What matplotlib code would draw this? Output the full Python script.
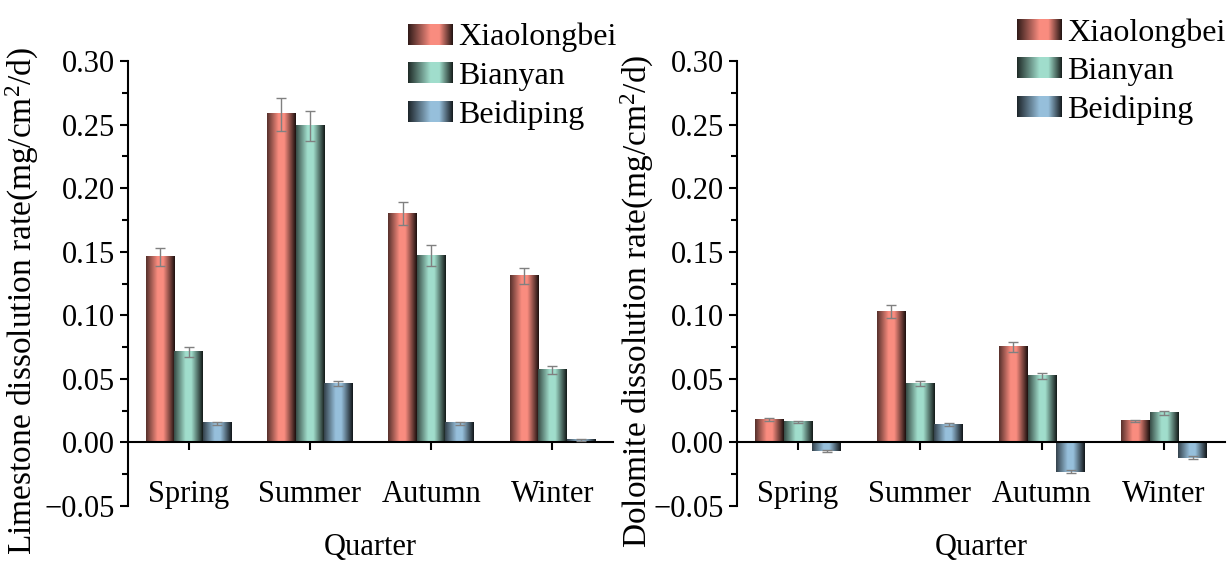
import numpy as np
import matplotlib
matplotlib.use('Agg')
import matplotlib.pyplot as plt
from matplotlib.patches import Patch
from matplotlib.legend_handler import HandlerBase
from matplotlib.image import BboxImage
from matplotlib.transforms import Bbox, TransformedBbox

plt.rcParams['font.family'] = 'Liberation Serif'
plt.rcParams['mathtext.fontset'] = 'custom'
plt.rcParams['mathtext.rm'] = 'Liberation Serif'
plt.rcParams['mathtext.it'] = 'Liberation Serif:italic'

# data
quarters = ['Spring', 'Summer', 'Autumn', 'Winter']
sites = ['Xiaolongbei', 'Bianyan', 'Beidiping']

lime_xlb = [0.146, 0.258, 0.180, 0.131]
lime_by = [0.071, 0.249, 0.147, 0.057]
lime_bdp = [0.015, 0.046, 0.015, 0.002]
lime_xlb_err = [0.007, 0.013, 0.009, 0.006]
lime_by_err = [0.004, 0.012, 0.008, 0.003]
lime_bdp_err = [0.001, 0.002, 0.001, 0.0005]

dolo_xlb = [0.018, 0.103, 0.075, 0.017]
dolo_by = [0.016, 0.046, 0.052, 0.023]
dolo_bdp = [-0.007, 0.014, -0.023, -0.012]
dolo_xlb_err = [0.001, 0.005, 0.004, 0.001]
dolo_by_err = [0.001, 0.002, 0.0025, 0.0015]
dolo_bdp_err = [0.0008, 0.001, 0.001, 0.001]

colors = [(0.98, 0.55, 0.50), (0.63, 0.87, 0.80), (0.59, 0.75, 0.86)]
err_color = '#808080'

# horizontal shading profile used for the "cylinder" look
bar_t = [0.0, 0.4, 0.6, 1.0]
bar_f = [0.35, 1.0, 1.0, 0.12]
leg_t = [0.0, 0.5, 0.7, 1.0]
leg_f = [0.2, 1.0, 1.0, 0.15]


def gradient_row(rgb, t, f, n=64):
    s = np.interp(np.linspace(0, 1, n), t, f)
    return (np.array(rgb)[None, None, :] * s[None, :, None]).clip(0, 1)


class GradientHandler(HandlerBase):
    def __init__(self, rgb):
        super().__init__()
        self.rgb = rgb

    def create_artists(self, legend, orig_handle, xdescent, ydescent,
                       width, height, fontsize, trans):
        bb = TransformedBbox(Bbox.from_bounds(-xdescent, -ydescent, width, height), trans)
        im = BboxImage(bb, interpolation='bilinear')
        im.set_data(gradient_row(self.rgb, leg_t, leg_f))
        return [im]


def draw_panel(ax, series, errs, ylabel, ylab_x, leg_anchor):
    x = np.arange(len(quarters))
    w = 0.235
    for j, (vals, err) in enumerate(zip(series, errs)):
        pos = x + (j - 1) * w
        bars = ax.bar(pos, vals, w, color=colors[j], zorder=1)
        for b in bars:
            x0, y0 = b.get_x(), b.get_y()
            ax.imshow(gradient_row(colors[j], bar_t, bar_f),
                      extent=[x0, x0 + b.get_width(), y0, y0 + b.get_height()],
                      aspect='auto', interpolation='bilinear', zorder=2)
        ax.errorbar(pos, vals, yerr=err, fmt='none', ecolor=err_color,
                    elinewidth=1, capsize=3.5, capthick=1, zorder=3)

    ax.set_xlim(-0.5, 3.5)
    ax.set_ylim(-0.05, 0.30)
    ax.set_yticks(np.arange(-0.05, 0.301, 0.05))
    ax.set_yticks(np.arange(-0.025, 0.30, 0.05), minor=True)
    ax.yaxis.set_major_formatter(plt.FuncFormatter(lambda v, p: f'{v:.2f}'.replace('-', '\u2212')))
    ax.set_xticks(x)
    ax.set_xticklabels(quarters)

    ax.spines['top'].set_visible(False)
    ax.spines['right'].set_visible(False)
    ax.spines['bottom'].set_position(('data', 0))
    for s in ('left', 'bottom'):
        ax.spines[s].set_linewidth(1.5)
    ax.tick_params(axis='both', which='major', direction='out', length=6,
                   width=1.5, labelsize=22)
    ax.tick_params(axis='y', which='minor', direction='out', length=4, width=1.5)
    ax.tick_params(axis='x', which='major', pad=21)

    ax.set_ylabel(ylabel, fontsize=24)
    ax.yaxis.set_label_coords(ylab_x, 0.46)
    ax.set_xlabel('Quarter', fontsize=22, labelpad=17)

    handles = [Patch(facecolor=c, label=s) for c, s in zip(colors, sites)]
    hmap = {h: GradientHandler(c) for h, c in zip(handles, colors)}
    ax.legend(handles=handles, handler_map=hmap, loc='upper left',
              bbox_to_anchor=leg_anchor, bbox_transform=ax.figure.transFigure,
              frameon=False, fontsize=23, handlelength=1.38, handleheight=0.62,
              handletextpad=0.2, labelspacing=0.3, borderaxespad=0, borderpad=0)


fig = plt.figure(figsize=(12.29, 5.62), dpi=100)
ax1 = fig.add_axes([128 / 1229, 56 / 562, 485 / 1229, 445 / 562])
ax2 = fig.add_axes([737 / 1229, 56 / 562, 488 / 1229, 445 / 562])

draw_panel(ax1, [lime_xlb, lime_by, lime_bdp], [lime_xlb_err, lime_by_err, lime_bdp_err],
           'Limestone dissolution rate(mg/cm$^{2}$/d)', -0.18, (408 / 1229, 1 - 23 / 562))
draw_panel(ax2, [dolo_xlb, dolo_by, dolo_bdp], [dolo_xlb_err, dolo_by_err, dolo_bdp_err],
           'Dolomite dissolution rate(mg/cm$^{2}$/d)', -0.166, (1017 / 1229, 1 - 18 / 562))

fig.savefig('out.png', dpi=100)
